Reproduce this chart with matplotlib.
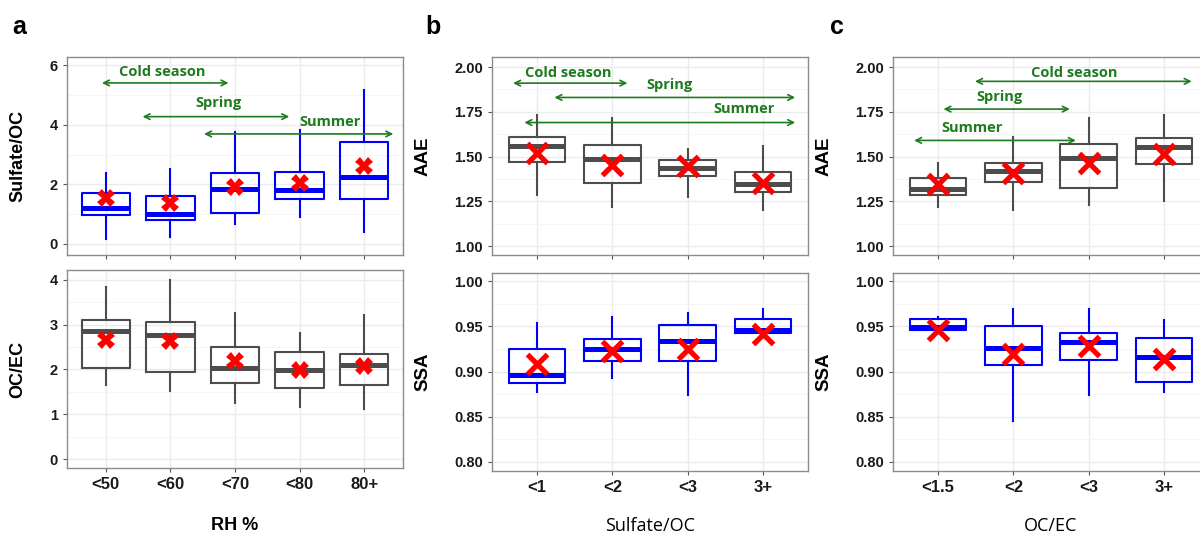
import matplotlib.pyplot as plt

plt.rcParams['font.family'] = ['Liberation Sans', 'DejaVu Sans']

# categories
rh_cats = ['<50', '<60', '<70', '<80', '80+']
so_cats = ['<1', '<2', '<3', '3+']
oe_cats = ['<1.5', '<2', '<3', '3+']

# box stats per category: [whisker low, Q1, median, Q3, whisker high]
sulfoc_by_rh = [[0.16, 0.97, 1.20, 1.70, 2.39],
                [0.25, 0.80, 0.99, 1.61, 2.51],
                [0.67, 1.03, 1.83, 2.39, 3.77],
                [0.89, 1.50, 1.81, 2.42, 3.82],
                [0.41, 1.50, 2.23, 3.43, 5.16]]
sulfoc_by_rh_mean = [1.53, 1.36, 1.90, 2.06, 2.61]

ocec_by_rh = [[1.65, 2.03, 2.86, 3.11, 3.84],
              [1.53, 1.94, 2.77, 3.05, 3.99],
              [1.24, 1.69, 2.04, 2.51, 3.26],
              [1.17, 1.58, 1.99, 2.39, 2.82],
              [1.12, 1.65, 2.10, 2.34, 3.21]]
ocec_by_rh_mean = [2.66, 2.64, 2.19, 1.99, 2.08]

aae_by_so = [[1.286, 1.472, 1.558, 1.608, 1.734],
             [1.216, 1.353, 1.489, 1.563, 1.717],
             [1.275, 1.392, 1.437, 1.478, 1.541],
             [1.200, 1.301, 1.346, 1.414, 1.558]]
aae_by_so_mean = [1.517, 1.455, 1.448, 1.353]

ssa_by_so = [[0.877, 0.887, 0.896, 0.925, 0.954],
             [0.893, 0.912, 0.925, 0.936, 0.960],
             [0.874, 0.912, 0.934, 0.951, 0.965],
             [0.943, 0.943, 0.946, 0.958, 0.969]]
ssa_by_so_mean = [0.908, 0.923, 0.925, 0.941]

aae_by_oe = [[1.216, 1.284, 1.318, 1.379, 1.465],
             [1.200, 1.357, 1.420, 1.465, 1.610],
             [1.232, 1.327, 1.494, 1.569, 1.717],
             [1.253, 1.461, 1.554, 1.602, 1.734]]
aae_by_oe_mean = [1.346, 1.409, 1.465, 1.513]

ssa_by_oe = [[0.946, 0.946, 0.949, 0.958, 0.960],
             [0.845, 0.907, 0.926, 0.950, 0.969],
             [0.874, 0.913, 0.933, 0.943, 0.969],
             [0.877, 0.888, 0.916, 0.937, 0.957]]
ssa_by_oe_mean = [0.946, 0.919, 0.928, 0.914]

# season ranges: (label, text x, text y, arrow start, arrow end, arrow y)
seasons_a = [('Cold season', 1.88, 5.77, 0.94, 2.90, 5.40),
             ('Spring', 2.75, 4.73, 1.57, 3.84, 4.27),
             ('Summer', 4.47, 4.10, 2.52, 5.45, 3.69)]
seasons_b = [('Cold season', 1.41, 1.966, 0.68, 2.20, 1.91),
             ('Spring', 2.76, 1.900, 1.23, 4.43, 1.83),
             ('Summer', 3.75, 1.765, 0.83, 4.43, 1.69)]
seasons_c = [('Cold season', 2.81, 1.966, 1.49, 4.37, 1.92),
             ('Spring', 1.82, 1.830, 1.07, 2.75, 1.765),
             ('Summer', 1.45, 1.660, 0.68, 2.83, 1.59)]

BLUE = '#0000FF'
GREY = '#4D4D4D'
RED = '#FF0000'
GREEN = '#1E7B1E'
W, H = 1200, 533

fig = plt.figure(figsize=(12, 5.33), dpi=100)


def make_ax(l, r, t, b):
    return fig.add_axes([l / W, (H - b) / H, (r - l) / W, (b - t) / H])


def style(ax, n, ylim, yticks, ylabels, minor):
    ax.set_xlim(0.4, n + 0.6)
    ax.set_ylim(*ylim)
    ax.set_yticks(yticks)
    ax.set_yticklabels(ylabels)
    ax.set_yticks(minor, minor=True)
    ax.set_xticks(range(1, n + 1))
    ax.grid(True, which='major', color='#EBEBEB', lw=1.0, zorder=0)
    ax.grid(True, which='minor', axis='y', color='#F4F4F4', lw=0.6, zorder=0)
    ax.set_axisbelow(True)
    for s in ax.spines.values():
        s.set_color('#8C8C8C')
        s.set_linewidth(1.0)
    ax.tick_params(axis='both', which='major', length=3, color='#555555',
                   labelcolor='#1A1A1A')
    ax.tick_params(axis='y', labelsize=10.5)
    ax.tick_params(axis='y', which='minor', length=0)
    for lb in ax.get_yticklabels():
        lb.set_fontweight('bold')


def boxes(ax, stats, means, color, big):
    bx = [dict(whislo=s[0], q1=s[1], med=s[2], q3=s[3], whishi=s[4]) for s in stats]
    pos = list(range(1, len(stats) + 1))
    ax.bxp(bx, positions=pos, widths=0.75, showfliers=False, showcaps=False,
           manage_ticks=False,
           boxprops=dict(color=color, lw=1.5),
           whiskerprops=dict(color=color, lw=1.5),
           medianprops=dict(color=color, lw=3.6, solid_capstyle='butt'))
    if big:
        ax.plot(pos, means, ls='none', marker='x', ms=14, mew=3.8, color=RED, zorder=5)
    else:
        ax.plot(pos, means, ls='none', marker='X', ms=12.5, mew=0, color=RED, zorder=5)


def seasons(ax, items):
    for lab, tx, ty, x1, x2, ay in items:
        ax.annotate('', xy=(x2, ay), xytext=(x1, ay),
                    arrowprops=dict(arrowstyle='<->', color=GREEN, lw=1.2,
                                    shrinkA=0, shrinkB=0, mutation_scale=10))
        ax.text(tx, ty, lab, ha='center', va='center', color=GREEN,
                fontsize=10.5, fontweight='bold', family='Open Sans')


# panel a
ax = make_ax(67, 403, 57, 255)
style(ax, 5, (-0.37, 6.27), [0, 2, 4, 6], ['0', '2', '4', '6'], [1, 3, 5])
ax.set_xticklabels([])
boxes(ax, sulfoc_by_rh, sulfoc_by_rh_mean, BLUE, False)
seasons(ax, seasons_a)
ax.set_ylabel('Sulfate/OC', fontsize=13, fontweight='bold')
ax.yaxis.set_label_coords(-0.122, 0.5)

ax = make_ax(67, 403, 270, 468)
style(ax, 5, (-0.2, 4.22), [0, 1, 2, 3, 4], ['0', '1', '2', '3', '4'],
      [0.5, 1.5, 2.5, 3.5])
ax.set_xticklabels(rh_cats, fontsize=12, fontweight='bold')
boxes(ax, ocec_by_rh, ocec_by_rh_mean, GREY, False)
ax.set_ylabel('OC/EC', fontsize=13, fontweight='bold')
ax.yaxis.set_label_coords(-0.122, 0.5)
ax.set_xlabel('RH %', fontsize=13, fontweight='bold', labelpad=18)

aae_ticks = [1.0, 1.25, 1.5, 1.75, 2.0]
aae_labels = ['1.00', '1.25', '1.50', '1.75', '2.00']
aae_minor = [1.125, 1.375, 1.625, 1.875]
ssa_ticks = [0.80, 0.85, 0.90, 0.95, 1.00]
ssa_labels = ['0.80', '0.85', '0.90', '0.95', '1.00']
ssa_minor = [0.825, 0.875, 0.925, 0.975]

# panel b
ax = make_ax(492, 808, 57, 255)
style(ax, 4, (0.95, 2.056), aae_ticks, aae_labels, aae_minor)
ax.set_xticklabels([])
boxes(ax, aae_by_so, aae_by_so_mean, GREY, True)
seasons(ax, seasons_b)
ax.set_ylabel('AAE', fontsize=13.5, fontweight='bold')
ax.yaxis.set_label_coords(-0.19, 0.5)

ax = make_ax(492, 808, 273, 471)
style(ax, 4, (0.79, 1.009), ssa_ticks, ssa_labels, ssa_minor)
ax.set_xticklabels(so_cats, fontsize=12, fontweight='bold')
boxes(ax, ssa_by_so, ssa_by_so_mean, BLUE, True)
ax.set_ylabel('SSA', fontsize=13.5, fontweight='bold')
ax.yaxis.set_label_coords(-0.19, 0.5)
ax.set_xlabel('Sulfate/OC', fontsize=13, family='Open Sans', labelpad=16)

# panel c
ax = make_ax(893, 1209, 57, 255)
style(ax, 4, (0.95, 2.056), aae_ticks, aae_labels, aae_minor)
ax.set_xticklabels([])
boxes(ax, aae_by_oe, aae_by_oe_mean, GREY, True)
seasons(ax, seasons_c)
ax.set_ylabel('AAE', fontsize=13.5, fontweight='bold')
ax.yaxis.set_label_coords(-0.19, 0.5)

ax = make_ax(893, 1209, 273, 471)
style(ax, 4, (0.79, 1.009), ssa_ticks, ssa_labels, ssa_minor)
ax.set_xticklabels(oe_cats, fontsize=12, fontweight='bold')
boxes(ax, ssa_by_oe, ssa_by_oe_mean, BLUE, True)
ax.set_ylabel('SSA', fontsize=13.5, fontweight='bold')
ax.yaxis.set_label_coords(-0.19, 0.5)
ax.set_xlabel('OC/EC', fontsize=13, family='Open Sans', labelpad=16)

for lab, x in [('a', 12), ('b', 425), ('c', 830)]:
    fig.text(x / W, (H - 27) / H, lab, fontsize=18, fontweight='bold',
             ha='left', va='center')

fig.savefig('out.png', dpi=100)
